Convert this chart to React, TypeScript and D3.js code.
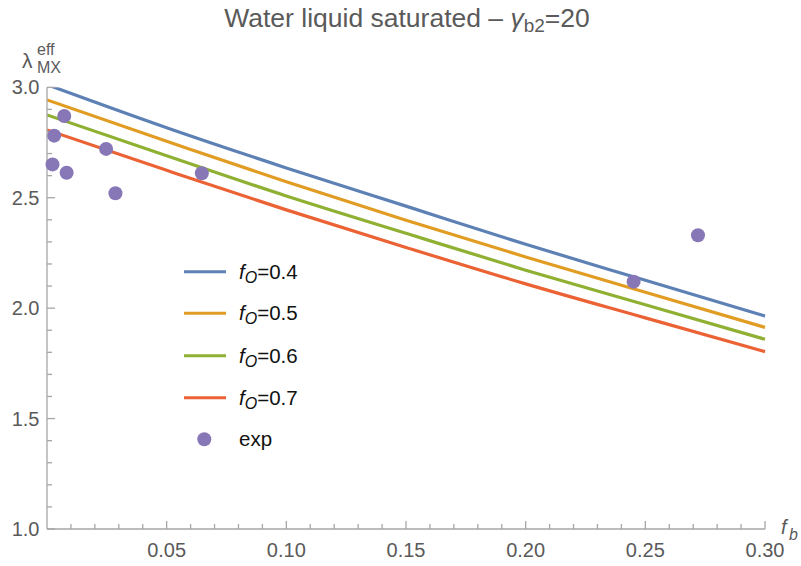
import React from "react";
import * as d3 from "d3";

// Model curves, sampled at f_b = 0, 0.05, ..., 0.30
const fbGrid = [0, 0.05, 0.1, 0.15, 0.2, 0.25, 0.3];
const seriesNames = ["0.4", "0.5", "0.6", "0.7"];
const curveFo04 = [3.012, 2.817, 2.635, 2.462, 2.289, 2.126, 1.964];
const curveFo05 = [2.943, 2.756, 2.572, 2.398, 2.232, 2.072, 1.913];
const curveFo06 = [2.875, 2.69, 2.508, 2.339, 2.172, 2.015, 1.859];
const curveFo07 = [2.807, 2.624, 2.445, 2.275, 2.11, 1.956, 1.803];
const seriesColors = ["#5e81b5", "#e19c24", "#8fb032", "#eb6235"];

// Experimental points
const expFb = [0.0023, 0.003, 0.0072, 0.0082, 0.0247, 0.0286, 0.0647, 0.2451, 0.272];
const expLambda = [2.651, 2.781, 2.87, 2.613, 2.721, 2.52, 2.611, 2.12, 2.33];
const expColor = "#8877b7";

const xMajorTicks = [0.05, 0.1, 0.15, 0.2, 0.25, 0.3];
const yMajorTicks = [1.0, 1.5, 2.0, 2.5, 3.0];

const W = 801;
const H = 566;
const left = 47;
const right = 765;
const top = 87.3;
const bottom = 529;

export default function App() {
  const x = d3.scaleLinear().domain([0, 0.3]).range([left, right]);
  const y = d3.scaleLinear().domain([1, 3]).range([bottom, top]);
  const curves = [curveFo04, curveFo05, curveFo06, curveFo07];
  const line = d3
    .line<number>()
    .x((_, i) => x(fbGrid[i]))
    .y((d) => y(d))
    .curve(d3.curveMonotoneX);

  const xMinor = d3.range(1, 31).filter((i) => i % 5 !== 0).map((i) => i / 100);
  const yMinor = d3.range(10, 31).filter((i) => i % 5 !== 0).map((i) => i / 10);

  const axisColor = "#a6a6a6";
  const labelColor = "#5a5a5a";
  const font = "'Liberation Sans', Arial, sans-serif";

  const legendX0 = 184;
  const legendX1 = 226;
  const legendTextX = 239;
  const legendY = [271.7, 313.3, 355.7, 397.7];
  const legendDotY = 439.3;

  return (
    <svg width={W} height={H} style={{ position: "absolute", left: 0, top: 0 }} fontFamily={font}>
      <rect x={0} y={0} width={W} height={H} fill="white" />
      <defs>
        <clipPath id="plotClip">
          <rect x={left} y={top} width={right - left + 1} height={bottom - top} />
        </clipPath>
      </defs>

      {/* title */}
      <text x={407} y={27} textAnchor="middle" fontSize={26.5} fill={labelColor}>
        Water liquid saturated – <tspan fontStyle="italic">γ</tspan>
        <tspan fontSize={19} dy={5}>b2</tspan>
        <tspan dy={-5}>=20</tspan>
      </text>

      {/* model curves */}
      <g clipPath="url(#plotClip)">
        {curves.map((c, k) => (
          <path key={k} d={line(c) || ""} fill="none" stroke={seriesColors[k]} strokeWidth={3.2} />
        ))}
      </g>

      {/* axes */}
      <g stroke={axisColor} strokeWidth={1.3}>
        <line x1={left} x2={right} y1={bottom} y2={bottom} />
        <line x1={left} x2={left} y1={top} y2={bottom} />
        {xMajorTicks.map((t) => (
          <line key={"xM" + t} x1={x(t)} x2={x(t)} y1={bottom} y2={bottom - 8} />
        ))}
        {xMinor.map((t) => (
          <line key={"xm" + t} x1={x(t)} x2={x(t)} y1={bottom} y2={bottom - 5} />
        ))}
        {yMajorTicks.map((t) => (
          <line key={"yM" + t} x1={left} x2={left + 8} y1={y(t)} y2={y(t)} />
        ))}
        {yMinor.map((t) => (
          <line key={"ym" + t} x1={left} x2={left + 5} y1={y(t)} y2={y(t)} />
        ))}
      </g>

      {/* experimental points */}
      {expFb.map((v, i) => (
        <circle key={"p" + i} cx={x(v)} cy={y(expLambda[i])} r={7} fill={expColor} />
      ))}

      {/* tick labels */}
      <g fontSize={20} fill={labelColor}>
        {xMajorTicks.map((t) => (
          <text key={"xl" + t} x={x(t)} y={556.5} textAnchor="middle">
            {d3.format(".2f")(t)}
          </text>
        ))}
        {yMajorTicks.map((t) => (
          <text key={"yl" + t} x={39.5} y={y(t) + 7} textAnchor="end">
            {d3.format(".1f")(t)}
          </text>
        ))}
      </g>

      {/* axis labels */}
      <text x={22} y={68} fontSize={21} fill={labelColor}>λ</text>
      <text x={37} y={55} fontSize={16} fill={labelColor}>eff</text>
      <text x={37} y={73} fontSize={16} fill={labelColor}>MX</text>
      <text x={781} y={534} fontSize={20} fill={labelColor} fontStyle="italic">f</text>
      <text x={789} y={540} fontSize={16} fill={labelColor} fontStyle="italic">b</text>

      {/* legend */}
      {seriesNames.map((n, k) => (
        <g key={"lg" + n}>
          <line x1={legendX0} x2={legendX1} y1={legendY[k]} y2={legendY[k]} stroke={seriesColors[k]} strokeWidth={3} />
          <text x={legendTextX} y={legendY[k] + 7} fontSize={20.5} fill="#111">
            <tspan fontStyle="italic">f</tspan>
            <tspan fontStyle="italic" fontSize={16} dy={4}>O</tspan>
            <tspan dy={-4}>={n}</tspan>
          </text>
        </g>
      ))}
      <circle cx={204.3} cy={legendDotY} r={7} fill={expColor} />
      <text x={legendTextX} y={legendDotY + 7} fontSize={20.5} fill="#111">exp</text>
    </svg>
  );
}
